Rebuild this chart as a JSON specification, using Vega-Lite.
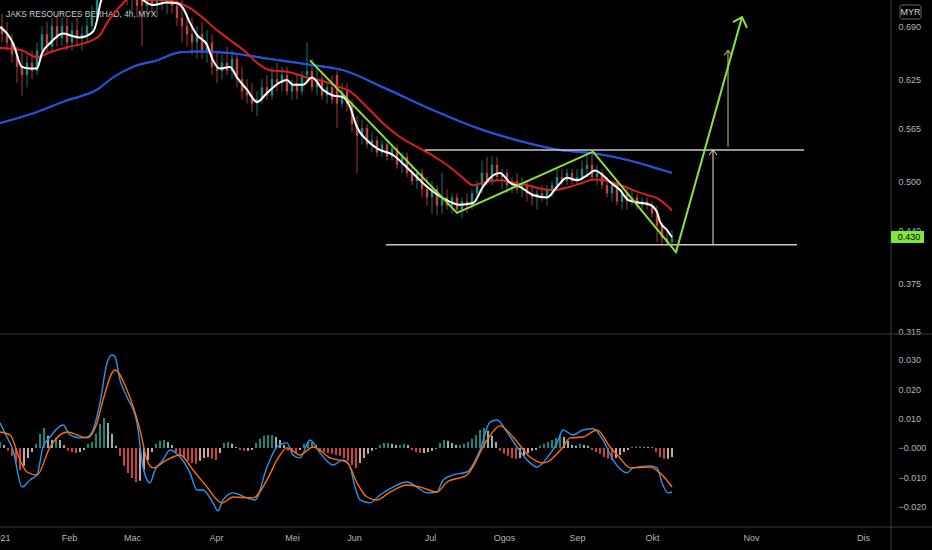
{
  "$schema": "https://vega.github.io/schema/vega-lite/v6.json",
  "background": "#000000",
  "width": 891,
  "height": 527,
  "autosize": {"type": "none"},
  "padding": {"left": 0, "top": 0, "right": 41, "bottom": 23},
  "config": {
    "view": {"stroke": null},
    "font": "Liberation Sans",
    "axis": {"labelFont": "Liberation Sans", "labelFontSize": 9, "labelColor": "#b2b5be", "ticks": false, "domain": false, "grid": false, "labelOverlap": false}
  },
  "datasets": {
    "candles": [
      {"x":2,"o":0.690,"h":0.705,"l":0.670,"c":0.680},{"x":7,"o":0.680,"h":0.695,"l":0.660,"c":0.670},
      {"x":12,"o":0.670,"h":0.680,"l":0.645,"c":0.655},{"x":17,"o":0.655,"h":0.665,"l":0.620,"c":0.640},
      {"x":22,"o":0.640,"h":0.660,"l":0.605,"c":0.630},{"x":27,"o":0.630,"h":0.655,"l":0.615,"c":0.645},
      {"x":32,"o":0.645,"h":0.660,"l":0.625,"c":0.635},{"x":37,"o":0.635,"h":0.670,"l":0.630,"c":0.660},
      {"x":42,"o":0.660,"h":0.690,"l":0.650,"c":0.680},{"x":47,"o":0.680,"h":0.695,"l":0.655,"c":0.665},
      {"x":52,"o":0.665,"h":0.700,"l":0.660,"c":0.690},{"x":57,"o":0.690,"h":0.705,"l":0.665,"c":0.675},
      {"x":62,"o":0.675,"h":0.700,"l":0.665,"c":0.690},{"x":67,"o":0.690,"h":0.700,"l":0.660,"c":0.670},
      {"x":72,"o":0.670,"h":0.695,"l":0.660,"c":0.685},{"x":77,"o":0.685,"h":0.700,"l":0.665,"c":0.675},
      {"x":82,"o":0.675,"h":0.690,"l":0.660,"c":0.680},{"x":87,"o":0.680,"h":0.700,"l":0.670,"c":0.690},
      {"x":92,"o":0.690,"h":0.715,"l":0.680,"c":0.705},{"x":97,"o":0.705,"h":0.740,"l":0.700,"c":0.730},
      {"x":102,"o":0.730,"h":0.760,"l":0.720,"c":0.750},{"x":107,"o":0.750,"h":0.775,"l":0.735,"c":0.760},
      {"x":112,"o":0.760,"h":0.780,"l":0.740,"c":0.750},{"x":117,"o":0.750,"h":0.770,"l":0.735,"c":0.745},
      {"x":122,"o":0.745,"h":0.765,"l":0.725,"c":0.740},{"x":127,"o":0.740,"h":0.755,"l":0.715,"c":0.725},
      {"x":132,"o":0.725,"h":0.745,"l":0.705,"c":0.735},{"x":137,"o":0.735,"h":0.750,"l":0.700,"c":0.715},
      {"x":142,"o":0.730,"h":0.740,"l":0.665,"c":0.715},{"x":147,"o":0.715,"h":0.735,"l":0.700,"c":0.725},
      {"x":152,"o":0.725,"h":0.740,"l":0.705,"c":0.715},{"x":157,"o":0.715,"h":0.735,"l":0.700,"c":0.725},
      {"x":162,"o":0.725,"h":0.740,"l":0.710,"c":0.720},{"x":167,"o":0.720,"h":0.735,"l":0.705,"c":0.725},
      {"x":172,"o":0.725,"h":0.740,"l":0.705,"c":0.715},{"x":177,"o":0.715,"h":0.730,"l":0.690,"c":0.700},
      {"x":182,"o":0.700,"h":0.725,"l":0.670,"c":0.690},{"x":187,"o":0.690,"h":0.705,"l":0.665,"c":0.680},
      {"x":192,"o":0.680,"h":0.700,"l":0.655,"c":0.670},{"x":197,"o":0.670,"h":0.690,"l":0.650,"c":0.680},
      {"x":202,"o":0.680,"h":0.695,"l":0.650,"c":0.660},{"x":207,"o":0.660,"h":0.685,"l":0.645,"c":0.670},
      {"x":212,"o":0.670,"h":0.680,"l":0.630,"c":0.640},{"x":217,"o":0.640,"h":0.660,"l":0.620,"c":0.635},
      {"x":222,"o":0.635,"h":0.655,"l":0.625,"c":0.645},{"x":227,"o":0.645,"h":0.665,"l":0.630,"c":0.635},
      {"x":232,"o":0.635,"h":0.660,"l":0.625,"c":0.650},{"x":237,"o":0.650,"h":0.655,"l":0.615,"c":0.625},
      {"x":242,"o":0.625,"h":0.640,"l":0.600,"c":0.610},{"x":247,"o":0.610,"h":0.625,"l":0.595,"c":0.605},
      {"x":252,"o":0.605,"h":0.620,"l":0.585,"c":0.595},{"x":257,"o":0.595,"h":0.610,"l":0.580,"c":0.600},
      {"x":262,"o":0.600,"h":0.625,"l":0.595,"c":0.615},{"x":267,"o":0.615,"h":0.630,"l":0.600,"c":0.605},
      {"x":272,"o":0.605,"h":0.640,"l":0.600,"c":0.625},{"x":277,"o":0.625,"h":0.645,"l":0.610,"c":0.620},
      {"x":282,"o":0.620,"h":0.640,"l":0.610,"c":0.630},{"x":287,"o":0.630,"h":0.640,"l":0.605,"c":0.610},
      {"x":292,"o":0.610,"h":0.625,"l":0.600,"c":0.620},{"x":297,"o":0.620,"h":0.630,"l":0.600,"c":0.610},
      {"x":302,"o":0.610,"h":0.635,"l":0.605,"c":0.630},{"x":307,"o":0.630,"h":0.670,"l":0.620,"c":0.635},
      {"x":312,"o":0.635,"h":0.650,"l":0.610,"c":0.615},{"x":317,"o":0.615,"h":0.640,"l":0.605,"c":0.625},
      {"x":322,"o":0.625,"h":0.635,"l":0.600,"c":0.605},{"x":327,"o":0.605,"h":0.620,"l":0.595,"c":0.615},
      {"x":332,"o":0.615,"h":0.630,"l":0.595,"c":0.600},{"x":337,"o":0.630,"h":0.635,"l":0.565,"c":0.595},
      {"x":342,"o":0.595,"h":0.620,"l":0.590,"c":0.610},{"x":347,"o":0.610,"h":0.620,"l":0.585,"c":0.595},
      {"x":352,"o":0.595,"h":0.600,"l":0.560,"c":0.570},{"x":357,"o":0.570,"h":0.580,"l":0.510,"c":0.555},
      {"x":362,"o":0.555,"h":0.575,"l":0.545,"c":0.565},{"x":367,"o":0.565,"h":0.570,"l":0.540,"c":0.545},
      {"x":372,"o":0.545,"h":0.560,"l":0.535,"c":0.550},{"x":377,"o":0.550,"h":0.555,"l":0.530,"c":0.535},
      {"x":382,"o":0.535,"h":0.550,"l":0.530,"c":0.545},{"x":387,"o":0.545,"h":0.550,"l":0.525,"c":0.530},
      {"x":392,"o":0.530,"h":0.545,"l":0.525,"c":0.540},{"x":397,"o":0.540,"h":0.545,"l":0.515,"c":0.520},
      {"x":402,"o":0.520,"h":0.535,"l":0.510,"c":0.530},{"x":407,"o":0.530,"h":0.535,"l":0.505,"c":0.510},
      {"x":412,"o":0.510,"h":0.520,"l":0.495,"c":0.500},{"x":417,"o":0.500,"h":0.515,"l":0.490,"c":0.510},
      {"x":422,"o":0.510,"h":0.515,"l":0.480,"c":0.490},{"x":427,"o":0.490,"h":0.505,"l":0.470,"c":0.480},
      {"x":432,"o":0.480,"h":0.500,"l":0.460,"c":0.490},{"x":437,"o":0.490,"h":0.495,"l":0.458,"c":0.470},
      {"x":442,"o":0.470,"h":0.510,"l":0.460,"c":0.480},{"x":447,"o":0.480,"h":0.490,"l":0.465,"c":0.470},
      {"x":452,"o":0.470,"h":0.485,"l":0.460,"c":0.480},{"x":457,"o":0.480,"h":0.485,"l":0.460,"c":0.465},
      {"x":462,"o":0.465,"h":0.480,"l":0.455,"c":0.475},{"x":467,"o":0.475,"h":0.485,"l":0.460,"c":0.470},
      {"x":472,"o":0.470,"h":0.490,"l":0.465,"c":0.485},{"x":477,"o":0.485,"h":0.500,"l":0.475,"c":0.495},
      {"x":482,"o":0.495,"h":0.525,"l":0.485,"c":0.510},{"x":487,"o":0.510,"h":0.530,"l":0.495,"c":0.500},
      {"x":492,"o":0.500,"h":0.530,"l":0.495,"c":0.520},{"x":497,"o":0.520,"h":0.530,"l":0.500,"c":0.505},
      {"x":502,"o":0.505,"h":0.515,"l":0.490,"c":0.510},{"x":507,"o":0.510,"h":0.515,"l":0.485,"c":0.495},
      {"x":512,"o":0.495,"h":0.505,"l":0.485,"c":0.500},{"x":517,"o":0.500,"h":0.510,"l":0.485,"c":0.490},
      {"x":522,"o":0.490,"h":0.505,"l":0.480,"c":0.495},{"x":527,"o":0.495,"h":0.500,"l":0.475,"c":0.485},
      {"x":532,"o":0.485,"h":0.495,"l":0.470,"c":0.480},{"x":537,"o":0.480,"h":0.490,"l":0.465,"c":0.485},
      {"x":542,"o":0.485,"h":0.495,"l":0.475,"c":0.480},{"x":547,"o":0.480,"h":0.495,"l":0.470,"c":0.490},
      {"x":552,"o":0.490,"h":0.500,"l":0.480,"c":0.495},{"x":557,"o":0.495,"h":0.515,"l":0.490,"c":0.505},
      {"x":562,"o":0.505,"h":0.515,"l":0.495,"c":0.500},{"x":567,"o":0.500,"h":0.515,"l":0.495,"c":0.510},
      {"x":572,"o":0.510,"h":0.515,"l":0.495,"c":0.500},{"x":577,"o":0.500,"h":0.515,"l":0.495,"c":0.505},
      {"x":582,"o":0.505,"h":0.525,"l":0.500,"c":0.515},{"x":587,"o":0.515,"h":0.535,"l":0.505,"c":0.520},
      {"x":592,"o":0.520,"h":0.535,"l":0.500,"c":0.505},{"x":597,"o":0.505,"h":0.520,"l":0.495,"c":0.510},
      {"x":602,"o":0.510,"h":0.515,"l":0.490,"c":0.495},{"x":607,"o":0.495,"h":0.505,"l":0.480,"c":0.485},
      {"x":612,"o":0.485,"h":0.500,"l":0.475,"c":0.495},{"x":617,"o":0.495,"h":0.500,"l":0.470,"c":0.475},
      {"x":622,"o":0.475,"h":0.490,"l":0.465,"c":0.485},{"x":627,"o":0.485,"h":0.490,"l":0.465,"c":0.475},
      {"x":632,"o":0.475,"h":0.490,"l":0.470,"c":0.480},{"x":637,"o":0.480,"h":0.485,"l":0.465,"c":0.470},
      {"x":642,"o":0.470,"h":0.480,"l":0.465,"c":0.475},{"x":647,"o":0.475,"h":0.480,"l":0.465,"c":0.470},
      {"x":652,"o":0.470,"h":0.475,"l":0.455,"c":0.460},{"x":657,"o":0.460,"h":0.470,"l":0.425,"c":0.445},
      {"x":662,"o":0.445,"h":0.450,"l":0.420,"c":0.430},{"x":667,"o":0.430,"h":0.440,"l":0.420,"c":0.425},
      {"x":672,"o":0.425,"h":0.440,"l":0.420,"c":0.430}
    ],
    "fastMA": [
      {"x":0,"p":0.689},{"x":7,"p":0.681},{"x":13,"p":0.669},{"x":22,"p":0.640},{"x":30,"p":0.638},{"x":37,"p":0.638},
      {"x":42,"p":0.657},{"x":50,"p":0.669},{"x":63,"p":0.681},{"x":72,"p":0.678},{"x":80,"p":0.676},{"x":93,"p":0.683},
      {"x":97,"p":0.697},{"x":100,"p":0.716},{"x":105,"p":0.734},{"x":115,"p":0.753},{"x":125,"p":0.747},{"x":135,"p":0.732},
      {"x":143,"p":0.722},{"x":153,"p":0.716},{"x":167,"p":0.719},{"x":177,"p":0.718},{"x":183,"p":0.712},{"x":190,"p":0.694},
      {"x":197,"p":0.679},{"x":207,"p":0.667},{"x":213,"p":0.648},{"x":220,"p":0.638},{"x":230,"p":0.640},{"x":237,"p":0.627},
      {"x":247,"p":0.612},{"x":257,"p":0.597},{"x":267,"p":0.608},{"x":280,"p":0.621},{"x":287,"p":0.624},{"x":293,"p":0.618},
      {"x":303,"p":0.618},{"x":312,"p":0.627},{"x":323,"p":0.612},{"x":333,"p":0.605},{"x":343,"p":0.603},{"x":350,"p":0.591},
      {"x":357,"p":0.566},{"x":367,"p":0.550},{"x":377,"p":0.540},{"x":393,"p":0.532},{"x":410,"p":0.513},{"x":427,"p":0.493},
      {"x":443,"p":0.479},{"x":460,"p":0.471},{"x":473,"p":0.473},{"x":483,"p":0.493},{"x":493,"p":0.507},{"x":500,"p":0.510},
      {"x":510,"p":0.498},{"x":520,"p":0.493},{"x":533,"p":0.483},{"x":547,"p":0.480},{"x":557,"p":0.493},{"x":567,"p":0.504},
      {"x":577,"p":0.501},{"x":587,"p":0.507},{"x":595,"p":0.513},{"x":603,"p":0.507},{"x":610,"p":0.499},{"x":620,"p":0.489},
      {"x":628,"p":0.477},{"x":637,"p":0.474},{"x":650,"p":0.471},{"x":657,"p":0.462},{"x":660,"p":0.450},{"x":667,"p":0.440},
      {"x":672,"p":0.431}
    ],
    "midMA": [
      {"x":0,"p":0.663},{"x":20,"p":0.661},{"x":37,"p":0.652},{"x":50,"p":0.658},{"x":67,"p":0.664},{"x":93,"p":0.673},
      {"x":100,"p":0.679},{"x":107,"p":0.694},{"x":115,"p":0.707},{"x":123,"p":0.718},{"x":130,"p":0.725},{"x":140,"p":0.726},
      {"x":147,"p":0.722},{"x":160,"p":0.722},{"x":170,"p":0.721},{"x":180,"p":0.718},{"x":190,"p":0.712},{"x":200,"p":0.703},
      {"x":217,"p":0.685},{"x":230,"p":0.673},{"x":247,"p":0.657},{"x":257,"p":0.645},{"x":270,"p":0.636},{"x":287,"p":0.634},
      {"x":310,"p":0.626},{"x":327,"p":0.621},{"x":340,"p":0.615},{"x":350,"p":0.610},{"x":365,"p":0.593},{"x":383,"p":0.571},
      {"x":400,"p":0.554},{"x":423,"p":0.538},{"x":437,"p":0.528},{"x":450,"p":0.517},{"x":462,"p":0.505},{"x":473,"p":0.495},
      {"x":487,"p":0.499},{"x":500,"p":0.501},{"x":513,"p":0.498},{"x":527,"p":0.495},{"x":540,"p":0.491},{"x":553,"p":0.489},
      {"x":570,"p":0.493},{"x":583,"p":0.498},{"x":593,"p":0.502},{"x":605,"p":0.501},{"x":613,"p":0.498},{"x":625,"p":0.493},
      {"x":637,"p":0.487},{"x":647,"p":0.483},{"x":657,"p":0.479},{"x":665,"p":0.472},{"x":672,"p":0.464}
    ],
    "slowMA": [
      {"x":0,"p":0.571},{"x":33,"p":0.583},{"x":67,"p":0.599},{"x":97,"p":0.612},{"x":113,"p":0.627},{"x":133,"p":0.640},
      {"x":157,"p":0.648},{"x":180,"p":0.658},{"x":200,"p":0.659},{"x":230,"p":0.657},{"x":263,"p":0.651},{"x":297,"p":0.645},
      {"x":320,"p":0.641},{"x":343,"p":0.636},{"x":383,"p":0.615},{"x":433,"p":0.587},{"x":477,"p":0.565},{"x":517,"p":0.550},
      {"x":560,"p":0.538},{"x":593,"p":0.534},{"x":627,"p":0.526},{"x":653,"p":0.517},{"x":672,"p":0.510}
    ],
    "drawings": [
      {"shape":"zigzag","x":310,"p":0.648},{"shape":"zigzag","x":457,"p":0.461},{"shape":"zigzag","x":593,"p":0.536},
      {"shape":"zigzag","x":676,"p":0.413},{"shape":"zigzag","x":742,"p":0.701},
      {"shape":"zigzag-head","x":733,"p":0.695},{"shape":"zigzag-head","x":742,"p":0.701},{"shape":"zigzag-head","x":747,"p":0.688},
      {"shape":"resistance","x":425,"p":0.538},{"shape":"resistance","x":804,"p":0.538},
      {"shape":"support","x":386,"p":0.422},{"shape":"support","x":797,"p":0.422},
      {"shape":"measure","x":713,"p":0.422},{"shape":"measure","x":713,"p":0.538},
      {"shape":"measure-head","x":709,"p":0.532},{"shape":"measure-head","x":713,"p":0.538},{"shape":"measure-head","x":717,"p":0.532},
      {"shape":"target","x":728,"p":0.542},{"shape":"target","x":728,"p":0.660},
      {"shape":"target-head","x":724,"p":0.654},{"shape":"target-head","x":728,"p":0.660},{"shape":"target-head","x":732,"p":0.654}
    ],
    "hist": [
      {"x":0,"v":0.0020},{"x":4,"v":0.0010},{"x":8,"v":-0.0010},{"x":12,"v":-0.0027},{"x":16,"v":-0.0048},{"x":20,"v":-0.0075},
      {"x":24,"v":-0.0061},{"x":28,"v":-0.0034},{"x":32,"v":-0.0014},{"x":36,"v":0.0014},{"x":40,"v":0.0048},{"x":44,"v":0.0068},
      {"x":48,"v":0.0041},{"x":52,"v":0.0027},{"x":56,"v":0.0034},{"x":60,"v":0.0027},{"x":64,"v":0.0010},{"x":68,"v":-0.0010},
      {"x":72,"v":-0.0014},{"x":76,"v":-0.0017},{"x":80,"v":-0.0014},{"x":84,"v":-0.0007},{"x":88,"v":0.0014},{"x":92,"v":0.0020},
      {"x":96,"v":0.0048},{"x":100,"v":0.0082},{"x":104,"v":0.0102},{"x":108,"v":0.0085},{"x":112,"v":0.0048},{"x":116,"v":0.0007},
      {"x":120,"v":-0.0027},{"x":124,"v":-0.0061},{"x":128,"v":-0.0085},{"x":132,"v":-0.0102},{"x":136,"v":-0.0116},{"x":140,"v":-0.0112},
      {"x":144,"v":-0.0075},{"x":148,"v":-0.0041},{"x":152,"v":-0.0014},{"x":156,"v":0.0014},{"x":160,"v":0.0024},{"x":164,"v":0.0027},
      {"x":168,"v":0.0020},{"x":172,"v":0.0010},{"x":176,"v":-0.0014},{"x":180,"v":-0.0027},{"x":184,"v":-0.0034},{"x":188,"v":-0.0044},
      {"x":192,"v":-0.0051},{"x":196,"v":-0.0054},{"x":200,"v":-0.0044},{"x":204,"v":-0.0034},{"x":208,"v":-0.0031},{"x":212,"v":-0.0037},
      {"x":216,"v":-0.0041},{"x":220,"v":-0.0017},{"x":224,"v":0.0017},{"x":228,"v":0.0020},{"x":232,"v":0.0014},{"x":236,"v":0.0003},
      {"x":240,"v":-0.0007},{"x":244,"v":-0.0010},{"x":248,"v":-0.0010},{"x":252,"v":-0.0007},{"x":256,"v":0.0017},{"x":260,"v":0.0031},
      {"x":264,"v":0.0041},{"x":268,"v":0.0044},{"x":272,"v":0.0044},{"x":276,"v":0.0037},{"x":280,"v":0.0027},{"x":284,"v":0.0010},
      {"x":288,"v":-0.0010},{"x":292,"v":-0.0014},{"x":296,"v":-0.0017},{"x":300,"v":-0.0007},{"x":304,"v":0.0014},{"x":308,"v":0.0020},
      {"x":312,"v":0.0020},{"x":316,"v":0.0010},{"x":320,"v":-0.0007},{"x":324,"v":-0.0014},{"x":328,"v":-0.0017},{"x":332,"v":-0.0020},
      {"x":336,"v":-0.0024},{"x":340,"v":-0.0027},{"x":344,"v":-0.0034},{"x":348,"v":-0.0044},{"x":352,"v":-0.0058},{"x":356,"v":-0.0068},
      {"x":360,"v":-0.0051},{"x":364,"v":-0.0034},{"x":368,"v":-0.0020},{"x":372,"v":-0.0010},{"x":376,"v":-0.0003},{"x":380,"v":0.0010},
      {"x":384,"v":0.0017},{"x":388,"v":0.0017},{"x":392,"v":0.0014},{"x":396,"v":0.0010},{"x":400,"v":0.0010},{"x":404,"v":0.0014},
      {"x":408,"v":0.0010},{"x":412,"v":-0.0007},{"x":416,"v":-0.0014},{"x":420,"v":-0.0017},{"x":424,"v":-0.0017},{"x":428,"v":-0.0014},
      {"x":432,"v":-0.0010},{"x":436,"v":-0.0003},{"x":440,"v":0.0017},{"x":444,"v":0.0027},{"x":448,"v":0.0024},{"x":452,"v":0.0017},
      {"x":456,"v":0.0010},{"x":460,"v":0.0010},{"x":464,"v":0.0014},{"x":468,"v":0.0020},{"x":472,"v":0.0031},{"x":476,"v":0.0044},
      {"x":480,"v":0.0061},{"x":484,"v":0.0068},{"x":488,"v":0.0058},{"x":492,"v":0.0041},{"x":496,"v":0.0020},{"x":500,"v":-0.0010},
      {"x":504,"v":-0.0020},{"x":508,"v":-0.0027},{"x":512,"v":-0.0034},{"x":516,"v":-0.0037},{"x":520,"v":-0.0034},{"x":524,"v":-0.0027},
      {"x":528,"v":-0.0017},{"x":532,"v":-0.0010},{"x":536,"v":-0.0007},{"x":540,"v":0.0007},{"x":544,"v":0.0014},{"x":548,"v":0.0020},
      {"x":552,"v":0.0027},{"x":556,"v":0.0034},{"x":560,"v":0.0041},{"x":564,"v":0.0037},{"x":568,"v":0.0024},{"x":572,"v":0.0010},
      {"x":576,"v":0.0007},{"x":580,"v":0.0014},{"x":584,"v":0.0010},{"x":588,"v":0.0007},{"x":592,"v":-0.0007},{"x":596,"v":-0.0014},
      {"x":600,"v":-0.0020},{"x":604,"v":-0.0031},{"x":608,"v":-0.0037},{"x":612,"v":-0.0041},{"x":616,"v":-0.0034},{"x":620,"v":-0.0024},
      {"x":624,"v":-0.0014},{"x":628,"v":-0.0007},{"x":632,"v":0.0003},{"x":636,"v":0.0005},{"x":640,"v":0.0005},{"x":644,"v":0.0005},
      {"x":648,"v":0.0003},{"x":652,"v":0.0002},{"x":656,"v":-0.0014},{"x":660,"v":-0.0031},{"x":664,"v":-0.0037},{"x":668,"v":-0.0037},
      {"x":672,"v":-0.0031}
    ],
    "macd": [
      {"x":0,"v":0.0085},{"x":7,"v":0.0037},{"x":13,"v":-0.0007},{"x":22,"v":-0.0133},{"x":30,"v":-0.0109},{"x":37,"v":-0.0092},
      {"x":43,"v":0.0003},{"x":50,"v":0.0037},{"x":63,"v":0.0078},{"x":70,"v":0.0044},{"x":80,"v":0.0034},{"x":87,"v":0.0037},
      {"x":93,"v":0.0061},{"x":100,"v":0.0153},{"x":107,"v":0.0289},{"x":112,"v":0.0316},{"x":115,"v":0.0310},{"x":120,"v":0.0231},
      {"x":127,"v":0.0173},{"x":137,"v":0.0085},{"x":143,"v":-0.0065},{"x":150,"v":-0.0119},{"x":155,"v":-0.0075},{"x":163,"v":-0.0041},
      {"x":170,"v":-0.0007},{"x":180,"v":-0.0031},{"x":190,"v":-0.0085},{"x":197,"v":-0.0143},{"x":203,"v":-0.0143},{"x":213,"v":-0.0187},
      {"x":218,"v":-0.0214},{"x":223,"v":-0.0177},{"x":233,"v":-0.0153},{"x":247,"v":-0.0170},{"x":255,"v":-0.0177},{"x":267,"v":-0.0065},
      {"x":277,"v":0.0003},{"x":287,"v":0.0017},{"x":293,"v":-0.0024},{"x":300,"v":-0.0034},{"x":310,"v":0.0027},{"x":320,"v":-0.0017},
      {"x":333,"v":-0.0058},{"x":343,"v":-0.0041},{"x":350,"v":-0.0065},{"x":355,"v":-0.0133},{"x":360,"v":-0.0177},{"x":370,"v":-0.0187},
      {"x":380,"v":-0.0160},{"x":393,"v":-0.0133},{"x":407,"v":-0.0116},{"x":417,"v":-0.0133},{"x":427,"v":-0.0153},{"x":437,"v":-0.0150},
      {"x":443,"v":-0.0109},{"x":453,"v":-0.0092},{"x":467,"v":-0.0082},{"x":480,"v":-0.0007},{"x":490,"v":0.0088},{"x":497,"v":0.0095},
      {"x":507,"v":0.0054},{"x":517,"v":0.0003},{"x":530,"v":-0.0051},{"x":537,"v":-0.0065},{"x":547,"v":-0.0034},{"x":557,"v":0.0017},
      {"x":563,"v":0.0061},{"x":573,"v":0.0044},{"x":583,"v":0.0061},{"x":593,"v":0.0065},{"x":603,"v":0.0027},{"x":613,"v":-0.0041},
      {"x":627,"v":-0.0085},{"x":633,"v":-0.0068},{"x":650,"v":-0.0061},{"x":657,"v":-0.0068},{"x":662,"v":-0.0119},{"x":668,"v":-0.0153},
      {"x":672,"v":-0.0150}
    ],
    "signal": [
      {"x":0,"v":0.0054},{"x":10,"v":0.0044},{"x":20,"v":-0.0041},{"x":27,"v":-0.0082},{"x":37,"v":-0.0092},{"x":50,"v":0.0003},
      {"x":67,"v":0.0054},{"x":87,"v":0.0034},{"x":97,"v":0.0085},{"x":103,"v":0.0163},{"x":115,"v":0.0265},{"x":127,"v":0.0197},
      {"x":140,"v":0.0061},{"x":147,"v":-0.0041},{"x":153,"v":-0.0068},{"x":167,"v":-0.0041},{"x":180,"v":-0.0024},{"x":193,"v":-0.0075},
      {"x":207,"v":-0.0133},{"x":222,"v":-0.0187},{"x":233,"v":-0.0167},{"x":253,"v":-0.0170},{"x":267,"v":-0.0109},{"x":277,"v":-0.0041},
      {"x":287,"v":0.0000},{"x":300,"v":-0.0024},{"x":313,"v":0.0003},{"x":330,"v":-0.0034},{"x":347,"v":-0.0048},{"x":357,"v":-0.0119},
      {"x":367,"v":-0.0167},{"x":377,"v":-0.0177},{"x":390,"v":-0.0150},{"x":407,"v":-0.0126},{"x":423,"v":-0.0136},{"x":437,"v":-0.0150},
      {"x":447,"v":-0.0116},{"x":467,"v":-0.0092},{"x":487,"v":0.0027},{"x":500,"v":0.0075},{"x":513,"v":0.0037},{"x":530,"v":-0.0031},
      {"x":543,"v":-0.0051},{"x":563,"v":0.0003},{"x":570,"v":0.0034},{"x":583,"v":0.0037},{"x":597,"v":0.0061},{"x":610,"v":0.0003},
      {"x":620,"v":-0.0034},{"x":630,"v":-0.0068},{"x":650,"v":-0.0065},{"x":660,"v":-0.0085},{"x":672,"v":-0.0133}
    ]
  },
  "layer": [
    {
      "layer": [
        {
          "data": {"name": "slowMA"},
          "mark": {"type": "line", "color": "#2452d6", "strokeWidth": 2, "interpolate": "monotone", "clip": true},
          "encoding": {
            "x": {
              "field": "x",
              "type": "quantitative",
              "scale": {"domain": [0, 891], "nice": false, "zero": false},
              "axis": {
                "title": null,
                "values": [0, 69, 132, 216, 292, 354, 430, 504, 577, 652, 751, 863],
                "labelExpr": "['2021','Feb','Mac','Apr','Mei','Jun','Jul','Ogos','Sep','Okt','Nov','Dis'][indexof([0,69,132,216,292,354,430,504,577,652,751,863], datum.value)]",
                "labelFlush": false,
                "labelPadding": 6
              }
            },
            "y": {
              "field": "p",
              "type": "quantitative",
              "scale": {"domain": [0.3125, 0.722], "range": [334, 0], "nice": false, "zero": false},
              "axis": {"title": null, "orient": "right", "values": [0.69, 0.625, 0.565, 0.5, 0.44, 0.375, 0.315], "format": ".3f", "labelPadding": 7}
            }
          }
        },
        {
          "data": {"values": [{}]},
          "mark": {"type": "text", "align": "left", "baseline": "middle", "fontSize": 8.4, "color": "#c9ccd4"},
          "encoding": {
            "x": {"datum": 6, "type": "quantitative"},
            "y": {"datum": 0.7054, "type": "quantitative"},
            "text": {"value": "JAKS RESOURCES BERHAD, 4h, MYX"}
          }
        },
        {
          "data": {"name": "candles"},
          "mark": {"type": "rule", "strokeWidth": 1, "opacity": 0.7, "clip": true},
          "encoding": {
            "x": {"field": "x", "type": "quantitative"},
            "y": {"field": "l", "type": "quantitative"},
            "y2": {"field": "h"},
            "color": {"condition": {"test": "datum.c >= datum.o", "value": "#26a69a"}, "value": "#ef5350"}
          }
        },
        {
          "data": {"name": "candles"},
          "mark": {"type": "rule", "strokeWidth": 2.5, "opacity": 0.7, "clip": true},
          "encoding": {
            "x": {"field": "x", "type": "quantitative"},
            "y": {"field": "o", "type": "quantitative"},
            "y2": {"field": "c"},
            "color": {"condition": {"test": "datum.c >= datum.o", "value": "#26a69a"}, "value": "#ef5350"}
          }
        },
        {
          "data": {"name": "slowMA"},
          "mark": {"type": "line", "color": "#2452d6", "strokeWidth": 2, "interpolate": "monotone", "clip": true},
          "encoding": {"x": {"field": "x", "type": "quantitative"}, "y": {"field": "p", "type": "quantitative"}}
        },
        {
          "data": {"name": "midMA"},
          "mark": {"type": "line", "color": "#dd1f1f", "strokeWidth": 2, "interpolate": "monotone", "clip": true},
          "encoding": {"x": {"field": "x", "type": "quantitative"}, "y": {"field": "p", "type": "quantitative"}}
        },
        {
          "data": {"name": "fastMA"},
          "mark": {"type": "line", "color": "#ffffff", "strokeWidth": 2, "interpolate": "monotone", "clip": true},
          "encoding": {"x": {"field": "x", "type": "quantitative"}, "y": {"field": "p", "type": "quantitative"}}
        },
        {
          "data": {"name": "drawings"},
          "transform": [{"filter": "datum.shape == 'resistance' || datum.shape == 'support'"}],
          "mark": {"type": "line", "color": "#c8c8c8", "strokeWidth": 1.5},
          "encoding": {"x": {"field": "x", "type": "quantitative"}, "y": {"field": "p", "type": "quantitative"}, "detail": {"field": "shape"}}
        },
        {
          "data": {"name": "drawings"},
          "transform": [{"filter": "datum.shape == 'measure' || datum.shape == 'measure-head'"}],
          "mark": {"type": "line", "color": "#efe6bd", "strokeWidth": 1},
          "encoding": {"x": {"field": "x", "type": "quantitative"}, "y": {"field": "p", "type": "quantitative"}, "detail": {"field": "shape"}}
        },
        {
          "data": {"name": "drawings"},
          "transform": [{"filter": "datum.shape == 'target' || datum.shape == 'target-head'"}],
          "mark": {"type": "line", "color": "#a9a25c", "strokeWidth": 1.2},
          "encoding": {"x": {"field": "x", "type": "quantitative"}, "y": {"field": "p", "type": "quantitative"}, "detail": {"field": "shape"}}
        },
        {
          "data": {"name": "drawings"},
          "transform": [{"filter": "datum.shape == 'zigzag' || datum.shape == 'zigzag-head'"}],
          "mark": {"type": "line", "color": "#86e23c", "strokeWidth": 2},
          "encoding": {"x": {"field": "x", "type": "quantitative"}, "y": {"field": "p", "type": "quantitative"}, "detail": {"field": "shape"}}
        },
        {
          "data": {"values": [{}]},
          "mark": {"type": "rule", "color": "#3a3d46", "strokeWidth": 1},
          "encoding": {
            "x": {"datum": 0, "type": "quantitative"},
            "x2": {"datum": 932},
            "y": {"datum": 0.3125, "type": "quantitative"}
          }
        },
        {
          "data": {"values": [{}]},
          "mark": {"type": "rule", "color": "#3a3d46", "strokeWidth": 1},
          "encoding": {
            "x": {"datum": 891, "type": "quantitative"},
            "y": {"datum": 0.722, "type": "quantitative"},
            "y2": {"datum": 0.3125}
          }
        },
        {
          "data": {"values": [{}]},
          "mark": {"type": "rect", "fill": "#000000", "stroke": "#62656f", "strokeWidth": 1, "cornerRadius": 2},
          "encoding": {
            "x": {"datum": 900, "type": "quantitative"},
            "x2": {"datum": 921},
            "y": {"datum": 0.7159, "type": "quantitative"},
            "y2": {"datum": 0.6987}
          }
        },
        {
          "data": {"values": [{}]},
          "mark": {"type": "text", "align": "center", "baseline": "middle", "fontSize": 9, "color": "#d1d4dc"},
          "encoding": {
            "x": {"datum": 910.5, "type": "quantitative"},
            "y": {"datum": 0.7073, "type": "quantitative"},
            "text": {"value": "MYR"}
          }
        },
        {
          "data": {"values": [{}]},
          "mark": {"type": "rect", "fill": "#7fe83c"},
          "encoding": {
            "x": {"datum": 891, "type": "quantitative"},
            "x2": {"datum": 924},
            "y": {"datum": 0.4388, "type": "quantitative"},
            "y2": {"datum": 0.4241}
          }
        },
        {
          "data": {"values": [{}]},
          "mark": {"type": "text", "align": "center", "baseline": "middle", "fontSize": 9, "color": "#000000"},
          "encoding": {
            "x": {"datum": 909, "type": "quantitative"},
            "y": {"datum": 0.4314, "type": "quantitative"},
            "text": {"value": "0.430"}
          }
        }
      ]
    },
    {
      "layer": [
        {
          "data": {"name": "hist"},
          "transform": [{"window": [{"op": "lag", "field": "v", "as": "prev"}], "sort": [{"field": "x", "order": "ascending"}]}],
          "mark": {"type": "rule", "strokeWidth": 2, "opacity": 0.8},
          "encoding": {
            "x": {"field": "x", "type": "quantitative"},
            "y": {
              "field": "v",
              "type": "quantitative",
              "scale": {"domain": [-0.0269, 0.0384], "range": [527, 335], "nice": false, "zero": false},
              "axis": {"title": null, "orient": "right", "values": [0.03, 0.02, 0.01, 0, -0.01, -0.02], "labelExpr": "datum.value == 0 ? '−0.000' : format(datum.value, '.3f')", "labelPadding": 7}
            },
            "y2": {"datum": 0},
            "color": {
              "condition": [
                {"test": "datum.v >= 0 && datum.v >= datum.prev", "value": "#26a69a"},
                {"test": "datum.v >= 0", "value": "#b2dfdb"},
                {"test": "datum.v < datum.prev", "value": "#ff5252"}
              ],
              "value": "#ffcdd2"
            }
          }
        },
        {
          "data": {"name": "macd"},
          "mark": {"type": "line", "color": "#2196f3", "strokeWidth": 1.4, "interpolate": "monotone"},
          "encoding": {"x": {"field": "x", "type": "quantitative"}, "y": {"field": "v", "type": "quantitative"}}
        },
        {
          "data": {"name": "signal"},
          "mark": {"type": "line", "color": "#ff6d00", "strokeWidth": 1.4, "interpolate": "monotone"},
          "encoding": {"x": {"field": "x", "type": "quantitative"}, "y": {"field": "v", "type": "quantitative"}}
        },
        {
          "data": {"values": [{}]},
          "mark": {"type": "rule", "color": "#3a3d46", "strokeWidth": 1},
          "encoding": {
            "x": {"datum": 0, "type": "quantitative"},
            "x2": {"datum": 932},
            "y": {"datum": -0.0269, "type": "quantitative"}
          }
        },
        {
          "data": {"values": [{}]},
          "mark": {"type": "rule", "color": "#3a3d46", "strokeWidth": 1},
          "encoding": {
            "x": {"datum": 891, "type": "quantitative"},
            "y": {"datum": 0.0384, "type": "quantitative"},
            "y2": {"datum": -0.0347}
          }
        }
      ]
    }
  ],
  "resolve": {"scale": {"y": "independent"}}
}
